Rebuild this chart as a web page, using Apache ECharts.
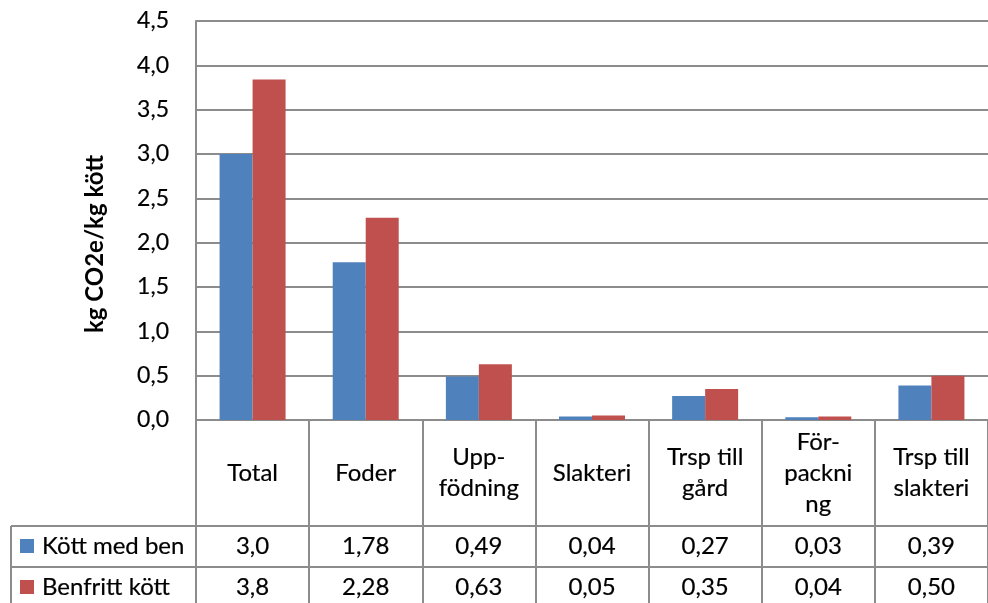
<!DOCTYPE html>
<html>
<head>
<meta charset="utf-8">
<script src="https://cdn.jsdelivr.net/npm/echarts@6/dist/echarts.min.js"></script>
<style>
  html, body { margin: 0; padding: 0; background: #ffffff; }
  #chart { width: 988px; height: 603px; }
</style>
</head>
<body>
<div id="chart"></div>
<script>
// Klimatpåverkan per kg kött, uppdelad per led
const categories = ['Total', 'Foder', 'Upp-\nfödning', 'Slakteri', 'Trsp till\ngård', 'För-\npackni\nng', 'Trsp till\nslakteri'];
const seriesNames = ['Kött med ben', 'Benfritt kött'];
const kottMedBen = [3.0, 1.78, 0.49, 0.04, 0.27, 0.03, 0.39];
const benfrittKott = [3.84, 2.28, 0.63, 0.05, 0.35, 0.04, 0.50];
const yMin = 0;
const yMax = 4.5;
const yStep = 0.5;
const yAxisTitle = 'kg CO2e/kg kött';

const colors = ['#4F81BD', '#C0504D'];
const lineGray = '#8c8c8c';
const fontFamily = 'Lato, "Open Sans", sans-serif';
const fontSize = 24;
const numSize = 23;
// a hairline outline gives the glyphs a slightly heavier weight
const ink = { color: '#000', textBorderColor: '#000', textBorderWidth: 0.2 };

// Swedish decimal comma; the total column is shown with one decimal
function fmtCell(v, i) {
  return (i === 0 ? v.toFixed(1) : v.toFixed(2)).replace('.', ',');
}

const chart = echarts.init(document.getElementById('chart'), null, { renderer: 'canvas' });

const plotLeft = 196, plotTop = 21, plotBottomY = 420, rowTop1 = 526, rowTop2 = 567;

// one legend entry per table row, sitting in the row's first cell
function legendRow(name, centerY) {
  return {
    orient: 'horizontal',
    left: 20,
    top: centerY - 14,
    padding: 0,
    itemWidth: 14,
    itemHeight: 14,
    icon: 'rect',
    data: [name],
    textStyle: Object.assign({ fontFamily: fontFamily, fontSize: fontSize, lineHeight: 28, padding: [0, 0, 0, 3] }, ink)
  };
}

const option = {
  animation: false,
  backgroundColor: '#ffffff',
  textStyle: { fontFamily: fontFamily },
  grid: { left: plotLeft, right: -10, top: plotTop, bottom: 603 - plotBottomY, containLabel: false },
  legend: [legendRow(seriesNames[0], 546), legendRow(seriesNames[1], 587)],
  xAxis: [
    {
      type: 'category',
      data: categories,
      position: 'bottom',
      axisLine: { show: true, lineStyle: { color: lineGray, width: 2 } },
      axisTick: { show: true, interval: 0, alignWithLabel: false, length: 190, lineStyle: { color: lineGray, width: 2 } },
      axisLabel: Object.assign({
        interval: 0, margin: 53, verticalAlign: 'middle', align: 'center',
        fontFamily: fontFamily, fontSize: fontSize, lineHeight: 31
      }, ink),
      splitLine: { show: false }
    },
    {
      type: 'category',
      data: categories,
      position: 'bottom',
      offset: rowTop1 - plotBottomY,
      axisLine: { show: true, lineStyle: { color: lineGray, width: 2 } },
      axisTick: { show: false },
      axisLabel: Object.assign({
        interval: 0, margin: 20, verticalAlign: 'middle', align: 'center',
        fontFamily: fontFamily, fontSize: fontSize,
        formatter: (v, i) => fmtCell(kottMedBen[i], i)
      }, ink)
    },
    {
      type: 'category',
      data: categories,
      position: 'bottom',
      offset: rowTop2 - plotBottomY,
      axisLine: { show: true, lineStyle: { color: lineGray, width: 2 } },
      axisTick: { show: false },
      axisLabel: Object.assign({
        interval: 0, margin: 20, verticalAlign: 'middle', align: 'center',
        fontFamily: fontFamily, fontSize: fontSize,
        formatter: (v, i) => fmtCell(benfrittKott[i], i)
      }, ink)
    }
  ],
  yAxis: {
    type: 'value',
    min: yMin,
    max: yMax,
    interval: yStep,
    axisLine: { show: true, lineStyle: { color: lineGray, width: 2 } },
    axisTick: { show: false },
    axisLabel: Object.assign({
      margin: 27, fontFamily: fontFamily, fontSize: numSize,
      formatter: v => v.toFixed(1).replace('.', ',')
    }, ink),
    splitLine: { show: true, lineStyle: { color: lineGray, width: 2 } }
  },
  series: [
    {
      name: seriesNames[0], type: 'bar', data: kottMedBen, xAxisIndex: 0,
      barWidth: 33, barGap: '0%', itemStyle: { color: colors[0] }
    },
    {
      name: seriesNames[1], type: 'bar', data: benfrittKott, xAxisIndex: 0,
      barWidth: 33, barGap: '0%', itemStyle: { color: colors[1] }
    }
  ],
  graphic: [
    {
      type: 'text', x: 95, y: 244, rotation: Math.PI / 2,
      style: { text: yAxisTitle, fontFamily: fontFamily, fontSize: 24, fontWeight: 'bold', fill: '#000', align: 'center', verticalAlign: 'middle' }
    },
    // legend cell borders of the data table
    { type: 'line', shape: { x1: 11, y1: rowTop1, x2: plotLeft, y2: rowTop1 }, style: { stroke: lineGray, lineWidth: 2 } },
    { type: 'line', shape: { x1: 11, y1: rowTop2, x2: plotLeft, y2: rowTop2 }, style: { stroke: lineGray, lineWidth: 2 } },
    { type: 'line', shape: { x1: 11, y1: rowTop1, x2: 11, y2: 610 }, style: { stroke: lineGray, lineWidth: 2 } }
  ]
};

chart.setOption(option);
</script>
</body>
</html>
